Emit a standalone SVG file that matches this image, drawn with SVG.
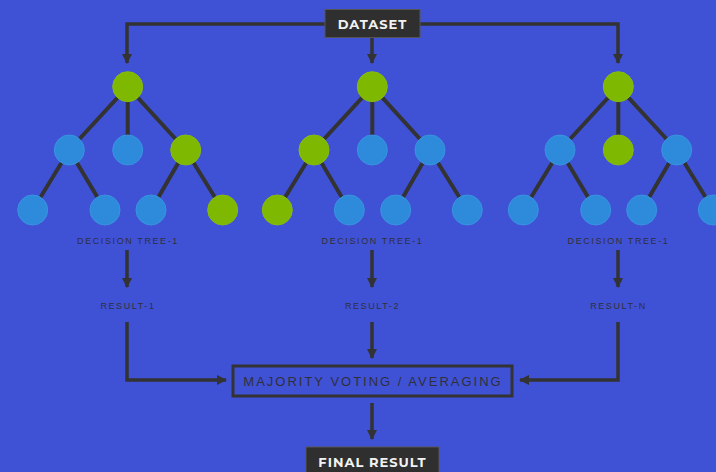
<svg xmlns="http://www.w3.org/2000/svg" width="716" height="472" viewBox="0 0 716 472">
  <style>
    .bg { fill: #3f52d6; }
    .edge { stroke: #333333; stroke-width: 4; fill: none; }
    .flow { stroke: #333333; stroke-width: 3.5; fill: none; }
    .leaf { fill: #2e8bdc; stroke: #3a93e0; stroke-width: 1; }
    .hit { fill: #7fb800; stroke: #86bb10; stroke-width: 1; }
    .dark-box { fill: #2f2f2f; stroke: #555555; stroke-width: 1; }
    .white-label { font-family: "Montserrat", "Liberation Sans", Arial, sans-serif; font-size: 13px; font-weight: bold; fill: #f2f2f2; letter-spacing: 1px; text-anchor: middle; }
    .small-label { font-family: "Liberation Sans", Arial, sans-serif; font-size: 9px; fill: #2f2f3a; letter-spacing: 1.6px; text-anchor: middle; }
    .vote-label { font-family: "Liberation Sans", Arial, sans-serif; font-size: 13px; fill: #2f2f3a; letter-spacing: 2px; text-anchor: middle; }
  </style>
  <defs>
    <marker id="arrow" markerWidth="10" markerHeight="10" refX="9" refY="5" orient="auto" markerUnits="userSpaceOnUse">
      <path d="M0,0 L10,5 L0,10 Z" fill="#333333"/>
    </marker>
  </defs>

  <rect class="bg" x="0" y="0" width="716" height="472"/>

  <!-- connectors -->
  <g id="connectors">
    <!-- dataset to trees -->
    <path class="flow" d="M325,24 H127 V63" marker-end="url(#arrow)"/>
    <path class="flow" d="M420,24 H618 V63" marker-end="url(#arrow)"/>
    <path class="flow" d="M372,38 V63" marker-end="url(#arrow)"/>
    <!-- tree labels to results -->
    <path class="flow" d="M127,250 V287" marker-end="url(#arrow)"/>
    <path class="flow" d="M372,250 V287" marker-end="url(#arrow)"/>
    <path class="flow" d="M618,250 V287" marker-end="url(#arrow)"/>
    <!-- results to voting -->
    <path class="flow" d="M127,322 V380 H226" marker-end="url(#arrow)"/>
    <path class="flow" d="M618,322 V380 H520" marker-end="url(#arrow)"/>
    <path class="flow" d="M372,322 V358" marker-end="url(#arrow)"/>
    <!-- voting to final -->
    <path class="flow" d="M372,403 V439" marker-end="url(#arrow)"/>

    <!-- tree 1 edges -->
    <path class="edge" d="M127.7,86.7 L69.3,150 M127.7,86.7 V150 M127.7,86.7 L185.7,150 M69.3,150 L32.7,210 M69.3,150 L105,210 M185.7,150 L151,210 M185.7,150 L222.7,210"/>
    <!-- tree 2 edges -->
    <path class="edge" d="M372.3,86.7 L314,150 M372.3,86.7 V150 M372.3,86.7 L430,150 M314,150 L277.3,210 M314,150 L349.3,210 M430,150 L395.7,210 M430,150 L467.3,210"/>
    <!-- tree 3 edges -->
    <path class="edge" d="M618.3,86.7 L560,150 M618.3,86.7 V150 M618.3,86.7 L676.7,150 M560,150 L523.3,210 M560,150 L595.7,210 M676.7,150 L641.7,210 M676.7,150 L713.3,210"/>
  </g>

  <g id="dataset">
    <rect class="dark-box" x="325" y="9.5" width="95" height="28"/>
    <text class="white-label" x="372.5" y="28.5">DATASET</text>
  </g>

  <g id="tree-1">
    <circle class="hit" cx="127.7" cy="86.7" r="15"/>
    <circle class="leaf" cx="69.3" cy="150" r="15"/>
    <circle class="leaf" cx="127.7" cy="150" r="15"/>
    <circle class="hit" cx="185.7" cy="150" r="15"/>
    <circle class="leaf" cx="32.7" cy="210" r="15"/>
    <circle class="leaf" cx="105" cy="210" r="15"/>
    <circle class="leaf" cx="151" cy="210" r="15"/>
    <circle class="hit" cx="222.7" cy="210" r="15"/>
    <text class="small-label" x="128" y="243.5">DECISION TREE-1</text>
  </g>

  <g id="tree-2">
    <circle class="hit" cx="372.3" cy="86.7" r="15"/>
    <circle class="hit" cx="314" cy="150" r="15"/>
    <circle class="leaf" cx="372.3" cy="150" r="15"/>
    <circle class="leaf" cx="430" cy="150" r="15"/>
    <circle class="hit" cx="277.3" cy="210" r="15"/>
    <circle class="leaf" cx="349.3" cy="210" r="15"/>
    <circle class="leaf" cx="395.7" cy="210" r="15"/>
    <circle class="leaf" cx="467.3" cy="210" r="15"/>
    <text class="small-label" x="372.5" y="243.5">DECISION TREE-1</text>
  </g>

  <g id="tree-3">
    <circle class="hit" cx="618.3" cy="86.7" r="15"/>
    <circle class="leaf" cx="560" cy="150" r="15"/>
    <circle class="hit" cx="618.3" cy="150" r="15"/>
    <circle class="leaf" cx="676.7" cy="150" r="15"/>
    <circle class="leaf" cx="523.3" cy="210" r="15"/>
    <circle class="leaf" cx="595.7" cy="210" r="15"/>
    <circle class="leaf" cx="641.7" cy="210" r="15"/>
    <circle class="leaf" cx="713.3" cy="210" r="15"/>
    <text class="small-label" x="618.5" y="243.5">DECISION TREE-1</text>
  </g>

  <g id="result-1">
    <text class="small-label" x="128" y="308.5">RESULT-1</text>
  </g>
  <g id="result-2">
    <text class="small-label" x="372.5" y="308.5">RESULT-2</text>
  </g>
  <g id="result-n">
    <text class="small-label" x="618.5" y="308.5">RESULT-N</text>
  </g>

  <g id="voting">
    <rect x="233" y="366" width="279" height="30" fill="none" stroke="#333333" stroke-width="3"/>
    <text class="vote-label" x="373" y="385.5">MAJORITY VOTING / AVERAGING</text>
  </g>

  <g id="final-result">
    <rect class="dark-box" x="306" y="447" width="133" height="30"/>
    <text class="white-label" x="372.5" y="466.5">FINAL RESULT</text>
  </g>
</svg>
